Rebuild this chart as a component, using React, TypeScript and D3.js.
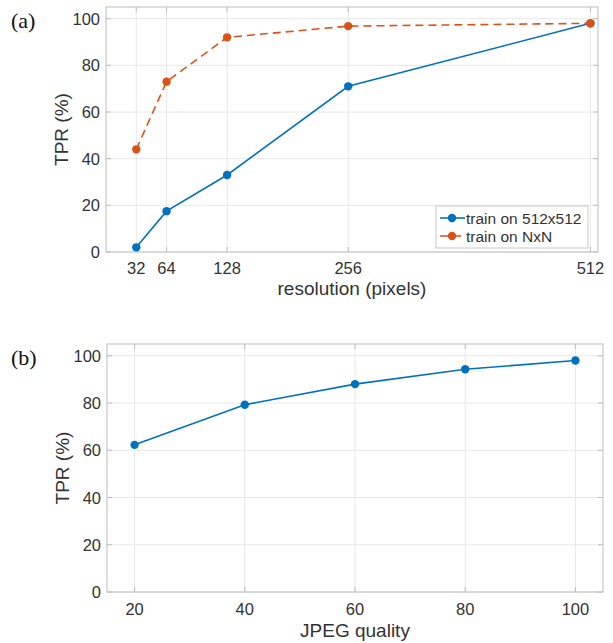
import React, { useEffect, useRef } from 'react';
import * as d3 from 'd3';

// panel (a): TPR vs resolution
const resolutions = [32, 64, 128, 256, 512];
const tpr512 = [2, 17.5, 33, 71, 98];
const tprNxN = [44, 73, 92, 96.8, 98];
const resTicks = [32, 64, 128, 256, 512];

// panel (b): TPR vs JPEG quality
const jpegQuality = [20, 40, 60, 80, 100];
const tprJpeg = [62.3, 79.3, 88, 94.3, 98];
const jpegTicks = [20, 40, 60, 80, 100];

const yTicks = [0, 20, 40, 60, 80, 100];

const BLUE = '#0072BD';
const ORANGE = '#D95319';
const FONT = '"Liberation Sans", Arial, Helvetica, sans-serif';
const TEXT = '#333';

const App = () => {
  const svgRef = useRef<SVGSVGElement | null>(null);

  useEffect(() => {
    const svg = d3.select(svgRef.current);
    svg.selectAll('*').remove();

    const drawPanel = (opts: {
      left: number; right: number; top: number; bottom: number;
      xDomain: [number, number]; xTicks: number[]; xLabel: string; tag: string;
      tickOff: number; labelOff: number;
      series: { xs: number[]; ys: number[]; color: string; dash?: string; name?: string }[];
      legend?: boolean;
    }) => {
      const { left, right, top, bottom } = opts;
      const x = d3.scaleLinear().domain(opts.xDomain).range([left, right]);
      const y = d3.scaleLinear().domain([0, 105]).range([bottom, top]);
      const g = svg.append('g');

      // grid
      g.selectAll('.vgrid').data(opts.xTicks).enter().append('line')
        .attr('x1', d => x(d)).attr('x2', d => x(d))
        .attr('y1', top).attr('y2', bottom)
        .attr('stroke', '#e8e8e8').attr('stroke-width', 1);
      g.selectAll('.hgrid').data(yTicks).enter().append('line')
        .attr('x1', left).attr('x2', right)
        .attr('y1', d => y(d)).attr('y2', d => y(d))
        .attr('stroke', '#e8e8e8').attr('stroke-width', 1);

      // box
      g.append('rect')
        .attr('x', left).attr('y', top)
        .attr('width', right - left).attr('height', bottom - top)
        .attr('fill', 'none').attr('stroke', '#c8c8c8').attr('stroke-width', 1.2);

      // inward ticks
      g.selectAll('.ytk').data(yTicks).enter().append('path')
        .attr('d', d => `M${left},${y(d)}h5M${right},${y(d)}h-5`)
        .attr('stroke', '#bdbdbd');
      g.selectAll('.xtk').data(opts.xTicks).enter().append('path')
        .attr('d', d => `M${x(d)},${bottom}v-5M${x(d)},${top}v5`)
        .attr('stroke', '#bdbdbd');

      // tick labels
      g.selectAll('.ytl').data(yTicks).enter().append('text')
        .attr('x', left - 6).attr('y', d => y(d) + 6)
        .attr('text-anchor', 'end')
        .attr('font-family', FONT).attr('font-size', 16.5).attr('fill', TEXT)
        .text(d => d);
      g.selectAll('.xtl').data(opts.xTicks).enter().append('text')
        .attr('x', d => x(d)).attr('y', bottom + opts.tickOff)
        .attr('text-anchor', 'middle')
        .attr('font-family', FONT).attr('font-size', 16.5).attr('fill', TEXT)
        .text(d => d);

      // axis labels
      g.append('text')
        .attr('transform', `translate(${left - 38},${(top + bottom) / 2}) rotate(-90)`)
        .attr('text-anchor', 'middle')
        .attr('font-family', FONT).attr('font-size', 19).attr('fill', TEXT)
        .text('TPR (%)');
      g.append('text')
        .attr('x', (left + right) / 2).attr('y', bottom + opts.labelOff)
        .attr('text-anchor', 'middle')
        .attr('font-family', FONT).attr('font-size', 19).attr('fill', TEXT)
        .text(opts.xLabel);

      // panel tag
      g.append('text')
        .attr('x', 11).attr('y', top + 21)
        .attr('font-family', '"Liberation Serif", "Times New Roman", serif')
        .attr('font-size', 22).attr('fill', '#111')
        .text(opts.tag);

      const line = d3.line<[number, number]>().x(d => x(d[0])).y(d => y(d[1]));
      opts.series.forEach(s => {
        const pts = s.xs.map((v, i) => [v, s.ys[i]] as [number, number]);
        g.append('path').datum(pts)
          .attr('d', line)
          .attr('fill', 'none').attr('stroke', s.color).attr('stroke-width', 1.6)
          .attr('stroke-dasharray', s.dash || null);
        g.selectAll(null).data(pts).enter().append('circle')
          .attr('cx', d => x(d[0])).attr('cy', d => y(d[1])).attr('r', 4.2)
          .attr('fill', s.color);
      });

      if (opts.legend) {
        const lx = 436, ly = 206, lw = 152, lh = 42;
        const lg = g.append('g');
        lg.append('rect').attr('x', lx).attr('y', ly).attr('width', lw).attr('height', lh)
          .attr('fill', '#fff').attr('stroke', '#c8c8c8');
        opts.series.forEach((s, i) => {
          const cy = ly + 12 + i * 18;
          lg.append('line').attr('x1', lx + 4).attr('x2', lx + 29)
            .attr('y1', cy).attr('y2', cy)
            .attr('stroke', s.color).attr('stroke-width', 1.6)
            .attr('stroke-dasharray', s.dash || null);
          lg.append('circle').attr('cx', lx + 16).attr('cy', cy).attr('r', 4.2).attr('fill', s.color);
          lg.append('text').attr('x', lx + 30).attr('y', cy + 5.5)
            .attr('font-family', FONT).attr('font-size', 15.5).attr('fill', TEXT)
            .text(s.name || '');
        });
      }
    };

    drawPanel({
      left: 106, right: 598, top: 7, bottom: 252,
      xDomain: [0, 520], xTicks: resTicks, xLabel: 'resolution (pixels)', tag: '(a)',
      tickOff: 22, labelOff: 43,
      series: [
        { xs: resolutions, ys: tpr512, color: BLUE, name: 'train on 512x512' },
        { xs: resolutions, ys: tprNxN, color: ORANGE, dash: '8,5', name: 'train on NxN' },
      ],
      legend: true,
    });

    drawPanel({
      left: 107, right: 603, top: 344, bottom: 592,
      xDomain: [15, 105], xTicks: jpegTicks, xLabel: 'JPEG quality', tag: '(b)',
      tickOff: 23, labelOff: 45,
      series: [{ xs: jpegQuality, ys: tprJpeg, color: BLUE }],
    });
  }, []);

  return (
    <svg ref={svgRef} width={613} height={643}
      style={{ position: 'absolute', left: 0, top: 0, background: '#fff' }} />
  );
};

export default App;
